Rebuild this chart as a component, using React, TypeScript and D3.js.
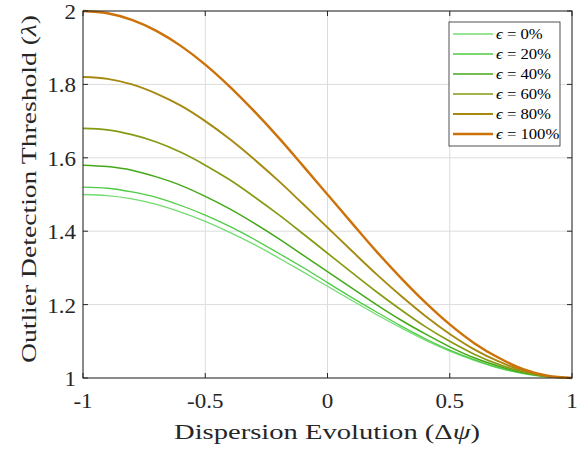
import React from "react";
import * as d3 from "d3";

const xValues = [-1, -0.9, -0.8, -0.7, -0.6, -0.5, -0.4, -0.3, -0.2, -0.1, 0, 0.1, 0.2, 0.3, 0.4, 0.5, 0.6, 0.7, 0.8, 0.9, 1];
const eps0 = [1.5, 1.497, 1.488, 1.473, 1.452, 1.427, 1.397, 1.364, 1.327, 1.289, 1.25, 1.211, 1.173, 1.137, 1.103, 1.073, 1.048, 1.027, 1.012, 1.003, 1.0];
const eps20 = [1.52, 1.517, 1.507, 1.492, 1.470, 1.444, 1.413, 1.378, 1.340, 1.301, 1.26, 1.219, 1.180, 1.142, 1.107, 1.076, 1.050, 1.028, 1.013, 1.003, 1.0];
const eps40 = [1.58, 1.576, 1.566, 1.548, 1.525, 1.495, 1.461, 1.422, 1.380, 1.335, 1.29, 1.245, 1.200, 1.158, 1.120, 1.085, 1.055, 1.032, 1.014, 1.004, 1.0];
const eps60 = [1.68, 1.676, 1.663, 1.643, 1.615, 1.580, 1.540, 1.494, 1.445, 1.393, 1.34, 1.287, 1.235, 1.186, 1.140, 1.100, 1.065, 1.037, 1.017, 1.004, 1.0];
const eps80 = [1.82, 1.815, 1.800, 1.775, 1.742, 1.700, 1.651, 1.596, 1.537, 1.474, 1.41, 1.346, 1.283, 1.224, 1.169, 1.120, 1.078, 1.045, 1.020, 1.005, 1.0];
const eps100 = [2.0, 1.994, 1.976, 1.946, 1.905, 1.854, 1.794, 1.727, 1.655, 1.578, 1.5, 1.422, 1.345, 1.273, 1.206, 1.146, 1.095, 1.055, 1.024, 1.006, 1.0];

const seriesLabels = ["0%", "20%", "40%", "60%", "80%", "100%"];
const seriesValues = [eps0, eps20, eps40, eps60, eps80, eps100];
const seriesColors = ["#72dc72", "#4fcb45", "#45a818", "#879a12", "#a68a10", "#cc7208"];
const seriesWidths = [1.3, 1.3, 1.5, 1.7, 1.9, 2.4];

const xTicks = [-1, -0.5, 0, 0.5, 1];
const xTickLabels = ["-1", "-0.5", "0", "0.5", "1"];
const yTicks = [1, 1.2, 1.4, 1.6, 1.8, 2];
const yTickLabels = ["1", "1.2", "1.4", "1.6", "1.8", "2"];

const FONT = "'Liberation Serif', 'DejaVu Serif', serif";

export default function App() {
  const W = 587, H = 455;
  const L = 83, R = 572, T = 11, B = 378;
  const x = d3.scaleLinear().domain([-1, 1]).range([L, R]);
  const y = d3.scaleLinear().domain([1, 2]).range([B, T]);
  const line = d3
    .line<number>()
    .x((_, i) => x(xValues[i]))
    .y((d) => y(d))
    .curve(d3.curveMonotoneX);

  const legX = 449, legY = 22, legW = 111, legH = 124;
  const sx = 1.15;

  return (
    <svg width={W} height={H} style={{ position: "absolute", left: 0, top: 0, background: "#fff" }}>
      <rect x={0} y={0} width={W} height={H} fill="#fff" />
      {xTicks.map((t) => (
        <line key={"gx" + t} x1={x(t)} x2={x(t)} y1={T} y2={B} stroke="#dcdcdc" strokeWidth={1} />
      ))}
      {yTicks.map((t) => (
        <line key={"gy" + t} x1={L} x2={R} y1={y(t)} y2={y(t)} stroke="#dcdcdc" strokeWidth={1} />
      ))}
      {seriesValues.map((vals, i) => (
        <path key={i} d={line(vals) || ""} fill="none" stroke={seriesColors[i]} strokeWidth={seriesWidths[i]} />
      ))}
      <rect x={L} y={T} width={R - L} height={B - T} fill="none" stroke="#262626" strokeWidth={1} />
      {xTicks.map((t) => (
        <g key={"tx" + t}>
          <line x1={x(t)} x2={x(t)} y1={B} y2={B - 5} stroke="#262626" />
          <line x1={x(t)} x2={x(t)} y1={T} y2={T + 5} stroke="#262626" />
        </g>
      ))}
      {yTicks.map((t) => (
        <g key={"ty" + t}>
          <line x1={L} x2={L + 5} y1={y(t)} y2={y(t)} stroke="#262626" />
          <line x1={R} x2={R - 5} y1={y(t)} y2={y(t)} stroke="#262626" />
        </g>
      ))}
      {xTicks.map((t, i) => (
        <text
          key={"lx" + t}
          transform={`translate(${x(t)}, ${B + 30}) scale(${sx}, 1)`}
          textAnchor="middle"
          fontFamily={FONT}
          fontSize={20}
          fill="#262626"
        >
          {xTickLabels[i]}
        </text>
      ))}
      {yTicks.map((t, i) => (
        <text
          key={"ly" + t}
          transform={`translate(${L - 7}, ${y(t) + 8}) scale(${sx}, 1)`}
          textAnchor="end"
          fontFamily={FONT}
          fontSize={20}
          fill="#262626"
        >
          {yTickLabels[i]}
        </text>
      ))}
      <text x={174} y={439} textAnchor="start" fontFamily={FONT} fontSize={22} textLength={306} lengthAdjust="spacingAndGlyphs" fill="#262626">
        Dispersion Evolution (Δ<tspan fontStyle="italic">ψ</tspan>)
      </text>
      <text
        transform={`translate(36, 363) rotate(-90)`}
        textAnchor="start"
        fontFamily={FONT}
        fontSize={22}
        textLength={348}
        lengthAdjust="spacingAndGlyphs"
        fill="#262626"
      >
        Outlier Detection Threshold (<tspan fontStyle="italic">λ</tspan>)
      </text>
      <rect x={legX} y={legY} width={legW} height={legH} fill="#fff" stroke="#262626" strokeWidth={0.8} />
      {seriesLabels.map((lab, i) => {
        const ly = 34 + i * 20;
        return (
          <g key={"leg" + i}>
            <line x1={453} x2={493} y1={ly} y2={ly} stroke={seriesColors[i]} strokeWidth={seriesWidths[i]} />
            <text
              transform={`translate(496, ${ly + 5}) scale(${sx}, 1)`}
              fontFamily={FONT}
              fontSize={14.5}
              fill="#000"
            >
              <tspan fontStyle="italic">ϵ</tspan> = {lab}
            </text>
          </g>
        );
      })}
    </svg>
  );
}
